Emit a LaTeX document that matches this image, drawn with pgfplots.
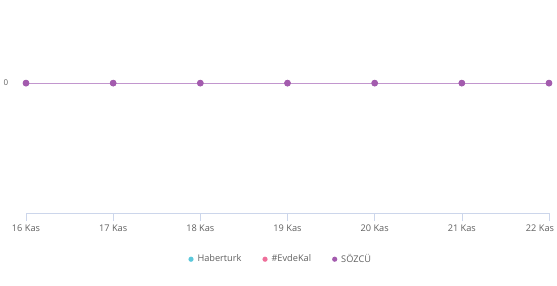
\documentclass[border=0pt]{standalone}
\usepackage{pgfplots}
\pgfplotsset{compat=1.18}
\usepackage{fontspec}
\setmainfont{Open Sans}
\definecolor{cHab}{HTML}{5BC8DB}
\definecolor{cEvd}{HTML}{EE6F9A}
\definecolor{cSoz}{HTML}{A35BAE}
\definecolor{cSozL}{HTML}{C296CE}
\definecolor{axl}{HTML}{CCD6EB}
\definecolor{txt}{HTML}{606060}
\begin{document}
\begin{tikzpicture}[x=1pt,y=1pt]
\path[use as bounding box] (0,0) rectangle (557,285);
\begin{axis}[
  at={(26pt,72pt)}, anchor=south west,
  scale only axis, width=523pt, height=213pt,
  xmin=0, xmax=6, ymin=-1, ymax=0.64,
  axis x line*=bottom, axis y line=none,
  axis line style={axl, line width=0.8pt},
  x axis line style={-},
  xtick={0,...,6},
  xticklabels={16 Kas,17 Kas,18 Kas,19 Kas,20 Kas,21 Kas,\hspace*{-18pt}22 Kas},
  xtick style={axl, line width=0.6pt},
  major tick length=8pt,
  tick align=outside,
  xticklabel style={font=\fontsize{9.2}{10}\selectfont, text=txt, yshift=-0.5pt},
  ytick=\empty,
  clip=false,
  legend style={at={(0.487,-0.217)}, anchor=center, draw=none, fill=none,
    legend columns=3, font=\fontsize{9.2}{10}\selectfont, text=txt,
    /tikz/every even column/.append style={column sep=19pt}},
  legend cell align=left,
  legend image code/.code={\fill[#1, draw=none] (0,0) circle (2.6pt); \path[draw=none,fill=none] (0,0) -- (4.5pt,0);},
]
\addplot[cHab, only marks, mark=*, mark size=2.8pt, mark options={draw=cHab,fill=cHab}] coordinates {(0,0)(1,0)(2,0)(3,0)(4,0)(5,0)(6,0)};
\addlegendentry{Haberturk}
\addplot[cEvd, only marks, mark=*, mark size=2.8pt, mark options={draw=cEvd,fill=cEvd}] coordinates {(0,0)(1,0)(2,0)(3,0)(4,0)(5,0)(6,0)};
\addlegendentry{\#EvdeKal}
\addplot[cSoz, draw=cSozL, line width=1.1pt, mark=*, mark size=2.8pt, mark options={draw=cSoz,fill=cSoz}] coordinates {(0,0)(1,0)(2,0)(3,0)(4,0)(5,0)(6,0)};
\addlegendentry{SÖZCÜ}
\end{axis}
\node[font=\fontsize{8}{9}\selectfont, text=txt] at (6,202) {0};
\end{tikzpicture}
\end{document}
